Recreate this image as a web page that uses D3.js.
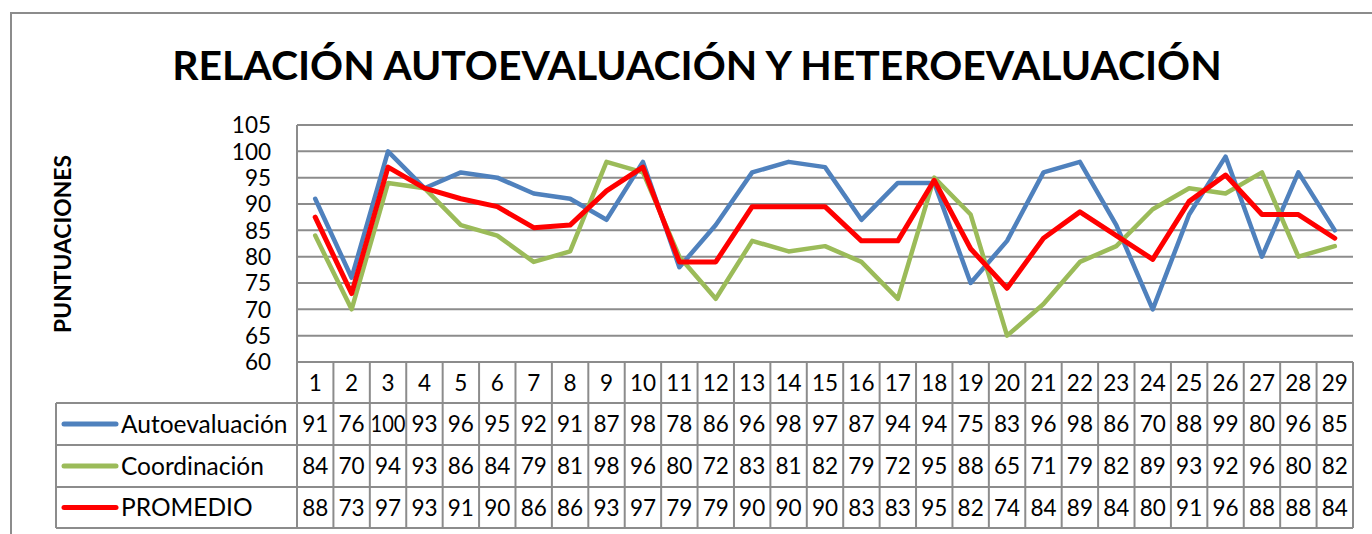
<!DOCTYPE html>
<html><head><meta charset="utf-8">
<script src="https://cdn.jsdelivr.net/npm/d3@7/dist/d3.min.js"></script>
<style>html,body{margin:0;padding:0;background:#fff;overflow:hidden}svg{display:block}text{font-family:Lato,"Open Sans",sans-serif;fill:#000}</style>
</head><body><svg id="c" width="1372" height="534"></svg>
<script>
const categories = ["1","2","3","4","5","6","7","8","9","10","11","12","13","14","15","16","17","18","19","20","21","22","23","24","25","26","27","28","29"];
const autoevaluacion = [91,76,100,93,96,95,92,91,87,98,78,86,96,98,97,87,94,94,75,83,96,98,86,70,88,99,80,96,85];
const coordinacion = [84,70,94,93,86,84,79,81,98,96,80,72,83,81,82,79,72,95,88,65,71,79,82,89,93,92,96,80,82];
const promedio = [87.5,73,97,93,91,89.5,85.5,86,92.5,97,79,79,89.5,89.5,89.5,83,83,94.5,81.5,74,83.5,88.5,84,79.5,90.5,95.5,88,88,83.5];
const promedioLabels = [88,73,97,93,91,90,86,86,93,97,79,79,90,90,90,83,83,95,82,74,84,89,84,80,91,96,88,88,84];
const yTicks = [60,65,70,75,80,85,90,95,100,105];
const seriesNames = ["Autoevaluación","Coordinación","PROMEDIO"];
const colors = ["#4F81BD","#9BBB59","#FF0000"];

const svg = d3.select("#c");
const L = 297, R = 1353, T = 125, B = 362;
const rowTops = [362, 403, 445, 487, 528];
const tableLeft = 56;
const grid = "#8c8c8c";
const fs = 22.5;

// outer border
svg.append("rect").attr("x",11).attr("y",13).attr("width",1400).attr("height",600)
  .attr("fill","none").attr("stroke","#8c8c8c").attr("stroke-width",2);

// title
const title = svg.append("text").attr("x",697).attr("y",80).attr("text-anchor","middle")
  .attr("font-weight","bold").attr("font-size",44).text("RELACIÓN AUTOEVALUACIÓN Y HETEROEVALUACIÓN");
const tw = title.node().getComputedTextLength();
title.attr("font-size", 44*1050/tw);

const x = d3.scaleBand().domain(categories).range([L,R]);
const y = d3.scaleLinear().domain([60,105]).range([B,T]);

// gridlines
svg.append("g").selectAll("line").data(yTicks).join("line")
  .attr("x1",L).attr("x2",R).attr("y1",d=>y(d)).attr("y2",d=>y(d))
  .attr("stroke",grid).attr("stroke-width",2);
svg.append("line").attr("x1",L).attr("x2",L).attr("y1",T).attr("y2",B).attr("stroke",grid).attr("stroke-width",2);

// y axis
const yAxis = d3.axisLeft(y).tickValues(yTicks).tickSize(0).tickPadding(0);
const ga = svg.append("g").attr("transform",`translate(271,0)`).call(yAxis);
ga.select(".domain").remove();
ga.selectAll("text").attr("font-size",fs).attr("font-family","Lato,sans-serif").attr("fill","#000").attr("dy","0.35em");

const yt = svg.append("text").attr("transform","translate(71,244) rotate(-90)").attr("text-anchor","middle")
  .attr("font-weight","bold").attr("font-size",21).text("PUNTUACIONES");
yt.attr("font-size", 21*178/yt.node().getComputedTextLength());

// table lines
const tg = svg.append("g");
rowTops.forEach((ry,i)=>{
  tg.append("line").attr("x1", i===0 ? L : tableLeft).attr("x2",R).attr("y1",ry).attr("y2",ry)
    .attr("stroke",grid).attr("stroke-width",2);
});
categories.forEach(c=>{
  tg.append("line").attr("x1",x(c)).attr("x2",x(c)).attr("y1",rowTops[0]).attr("y2",rowTops[4]).attr("stroke",grid).attr("stroke-width",2);
});
tg.append("line").attr("x1",R).attr("x2",R).attr("y1",rowTops[0]).attr("y2",rowTops[4]).attr("stroke",grid).attr("stroke-width",2);
tg.append("line").attr("x1",tableLeft).attr("x2",tableLeft).attr("y1",rowTops[1]).attr("y2",rowTops[4]).attr("stroke",grid).attr("stroke-width",2);

// category labels
svg.append("g").selectAll("text").data(categories).join("text")
  .attr("x",d=>x(d)+x.bandwidth()/2).attr("y",(rowTops[0]+rowTops[1])/2).attr("dy","0.36em")
  .attr("text-anchor","middle").attr("font-size",fs).text(d=>d);

const tableRows = [autoevaluacion, coordinacion, promedioLabels];
tableRows.forEach((vals,ri)=>{
  const cy = (rowTops[ri+1]+rowTops[ri+2])/2;
  svg.append("g").selectAll("text").data(vals).join("text")
    .attr("x",(d,i)=>x(categories[i])+x.bandwidth()/2).attr("y",cy).attr("dy","0.36em")
    .attr("text-anchor","middle").attr("font-size",fs)
    .attr("textLength",d=>String(d).length>2?35:null).attr("lengthAdjust","spacingAndGlyphs")
    .text(d=>d);
  svg.append("line").attr("x1",64).attr("x2",116).attr("y1",cy).attr("y2",cy)
    .attr("stroke",colors[ri]).attr("stroke-width",5).attr("stroke-linecap","round");
  svg.append("text").attr("x",121).attr("y",cy).attr("dy","0.36em").attr("font-size",24.5).text(seriesNames[ri]);
});

// lines
const line = d3.line().x((d,i)=>x(categories[i])+x.bandwidth()/2).y(d=>y(d));
[autoevaluacion, coordinacion, promedio].forEach((vals,i)=>{
  svg.append("path").datum(vals).attr("d",line).attr("fill","none")
    .attr("stroke",colors[i]).attr("stroke-width",i===2?5:4.5).attr("stroke-linejoin","round").attr("stroke-linecap","round");
});
</script></body></html>
